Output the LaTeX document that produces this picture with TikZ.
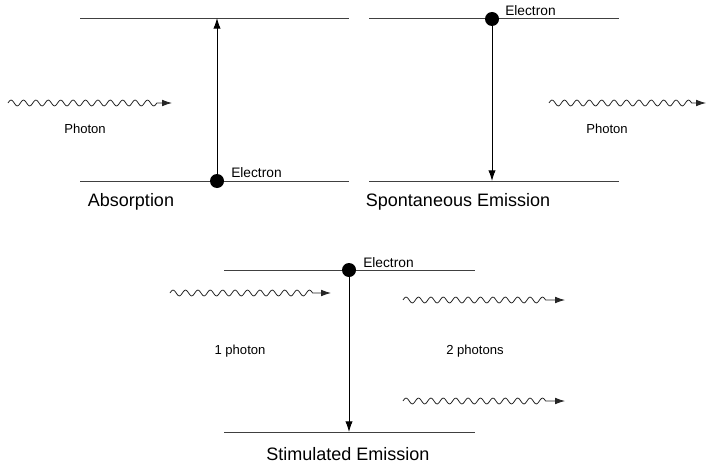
\documentclass[tikz,border=0pt]{standalone}
\usepackage{fontspec}
\setmainfont{Liberation Sans}
\usetikzlibrary{arrows.meta}
\newcommand\photonwave[3]{%
  \begin{scope}[shift={(#1)}]
  \draw[photon] plot[domain=0:#3,samples=200] (\x,{-2.9*sin(\x*29.032)}) -- (#2);
  \end{scope}}
\begin{document}
\begin{tikzpicture}[x=0.75pt,y=-0.75pt,
  level/.style={draw=black!75,line width=0.7pt},
  trans/.style={draw=black,line width=0.7pt,-{Latex[length=8pt,width=5.5pt]}},
  electron/.style={circle,fill=black,inner sep=0pt,minimum size=10.5pt},
  photon/.style={draw=black!85,line width=0.6pt,line join=round,-{Latex[length=7.5pt,width=5pt]}},
  small/.style={font=\fontsize{9.8}{11}\selectfont},
  elab/.style={font=\fontsize{10.3}{12}\selectfont,anchor=base west,inner sep=0pt},
  title/.style={font=\fontsize{13.5}{16}\selectfont}]
\useasboundingbox (0,0) rectangle (709,467);
% Absorption
\coordinate (a1) at (80,18); \coordinate (a2) at (349,18);
\coordinate (a3) at (80,181); \coordinate (a4) at (349,181);
\draw[level] (a1) -- (a2);
\draw[level] (a3) -- (a4);
\coordinate (atop) at (217,18);
\node[electron] (ae) at (217,181) {};
\draw[trans] (ae.center) -- (atop);
\node[elab] (ael) at (231,177) {Electron};
\coordinate (ap1) at (8,103); \coordinate (ap2) at (172,103);
\photonwave{ap1}{ap2}{148.8}
\node[small] (apl) at (85,129) {Photon};
\node[title] (at) at (131,202) {Absorption};
% Spontaneous emission
\coordinate (s1) at (369,18); \coordinate (s2) at (619,18);
\coordinate (s3) at (369,181); \coordinate (s4) at (619,181);
\draw[level] (s1) -- (s2);
\draw[level] (s3) -- (s4);
\node[electron] (se) at (492,19) {};
\coordinate (sbot) at (492,181);
\draw[trans] (se.center) -- (sbot);
\node[elab] (sel) at (505,16) {Electron};
\coordinate (sp1) at (549,103); \coordinate (sp2) at (706,103);
\photonwave{sp1}{sp2}{142.6}
\node[small] (spl) at (607,129) {Photon};
\node[title] (st) at (458,202) {Spontaneous Emission};
% Stimulated emission
\coordinate (t1) at (224,270); \coordinate (t2) at (475,270);
\coordinate (t3) at (224,432); \coordinate (t4) at (475,432);
\draw[level] (t1) -- (t2);
\draw[level] (t3) -- (t4);
\node[electron] (te) at (349,270) {};
\coordinate (tbot) at (349,432);
\draw[trans] (te.center) -- (tbot);
\node[elab] (tel) at (363,267) {Electron};
\coordinate (tp1) at (170,293); \coordinate (tp2) at (331,293);
\photonwave{tp1}{tp2}{142.6}
\coordinate (tq1) at (403,300); \coordinate (tq2) at (565,300);
\photonwave{tq1}{tq2}{142.6}
\coordinate (tr1) at (403,401); \coordinate (tr2) at (565,401);
\photonwave{tr1}{tr2}{142.6}
\node[small] (tpl) at (240,351) {1 photon};
\node[small] (tql) at (475,351) {2 photons};
\node[title] (tt) at (348,454) {Stimulated Emission};
\end{tikzpicture}
\end{document}
